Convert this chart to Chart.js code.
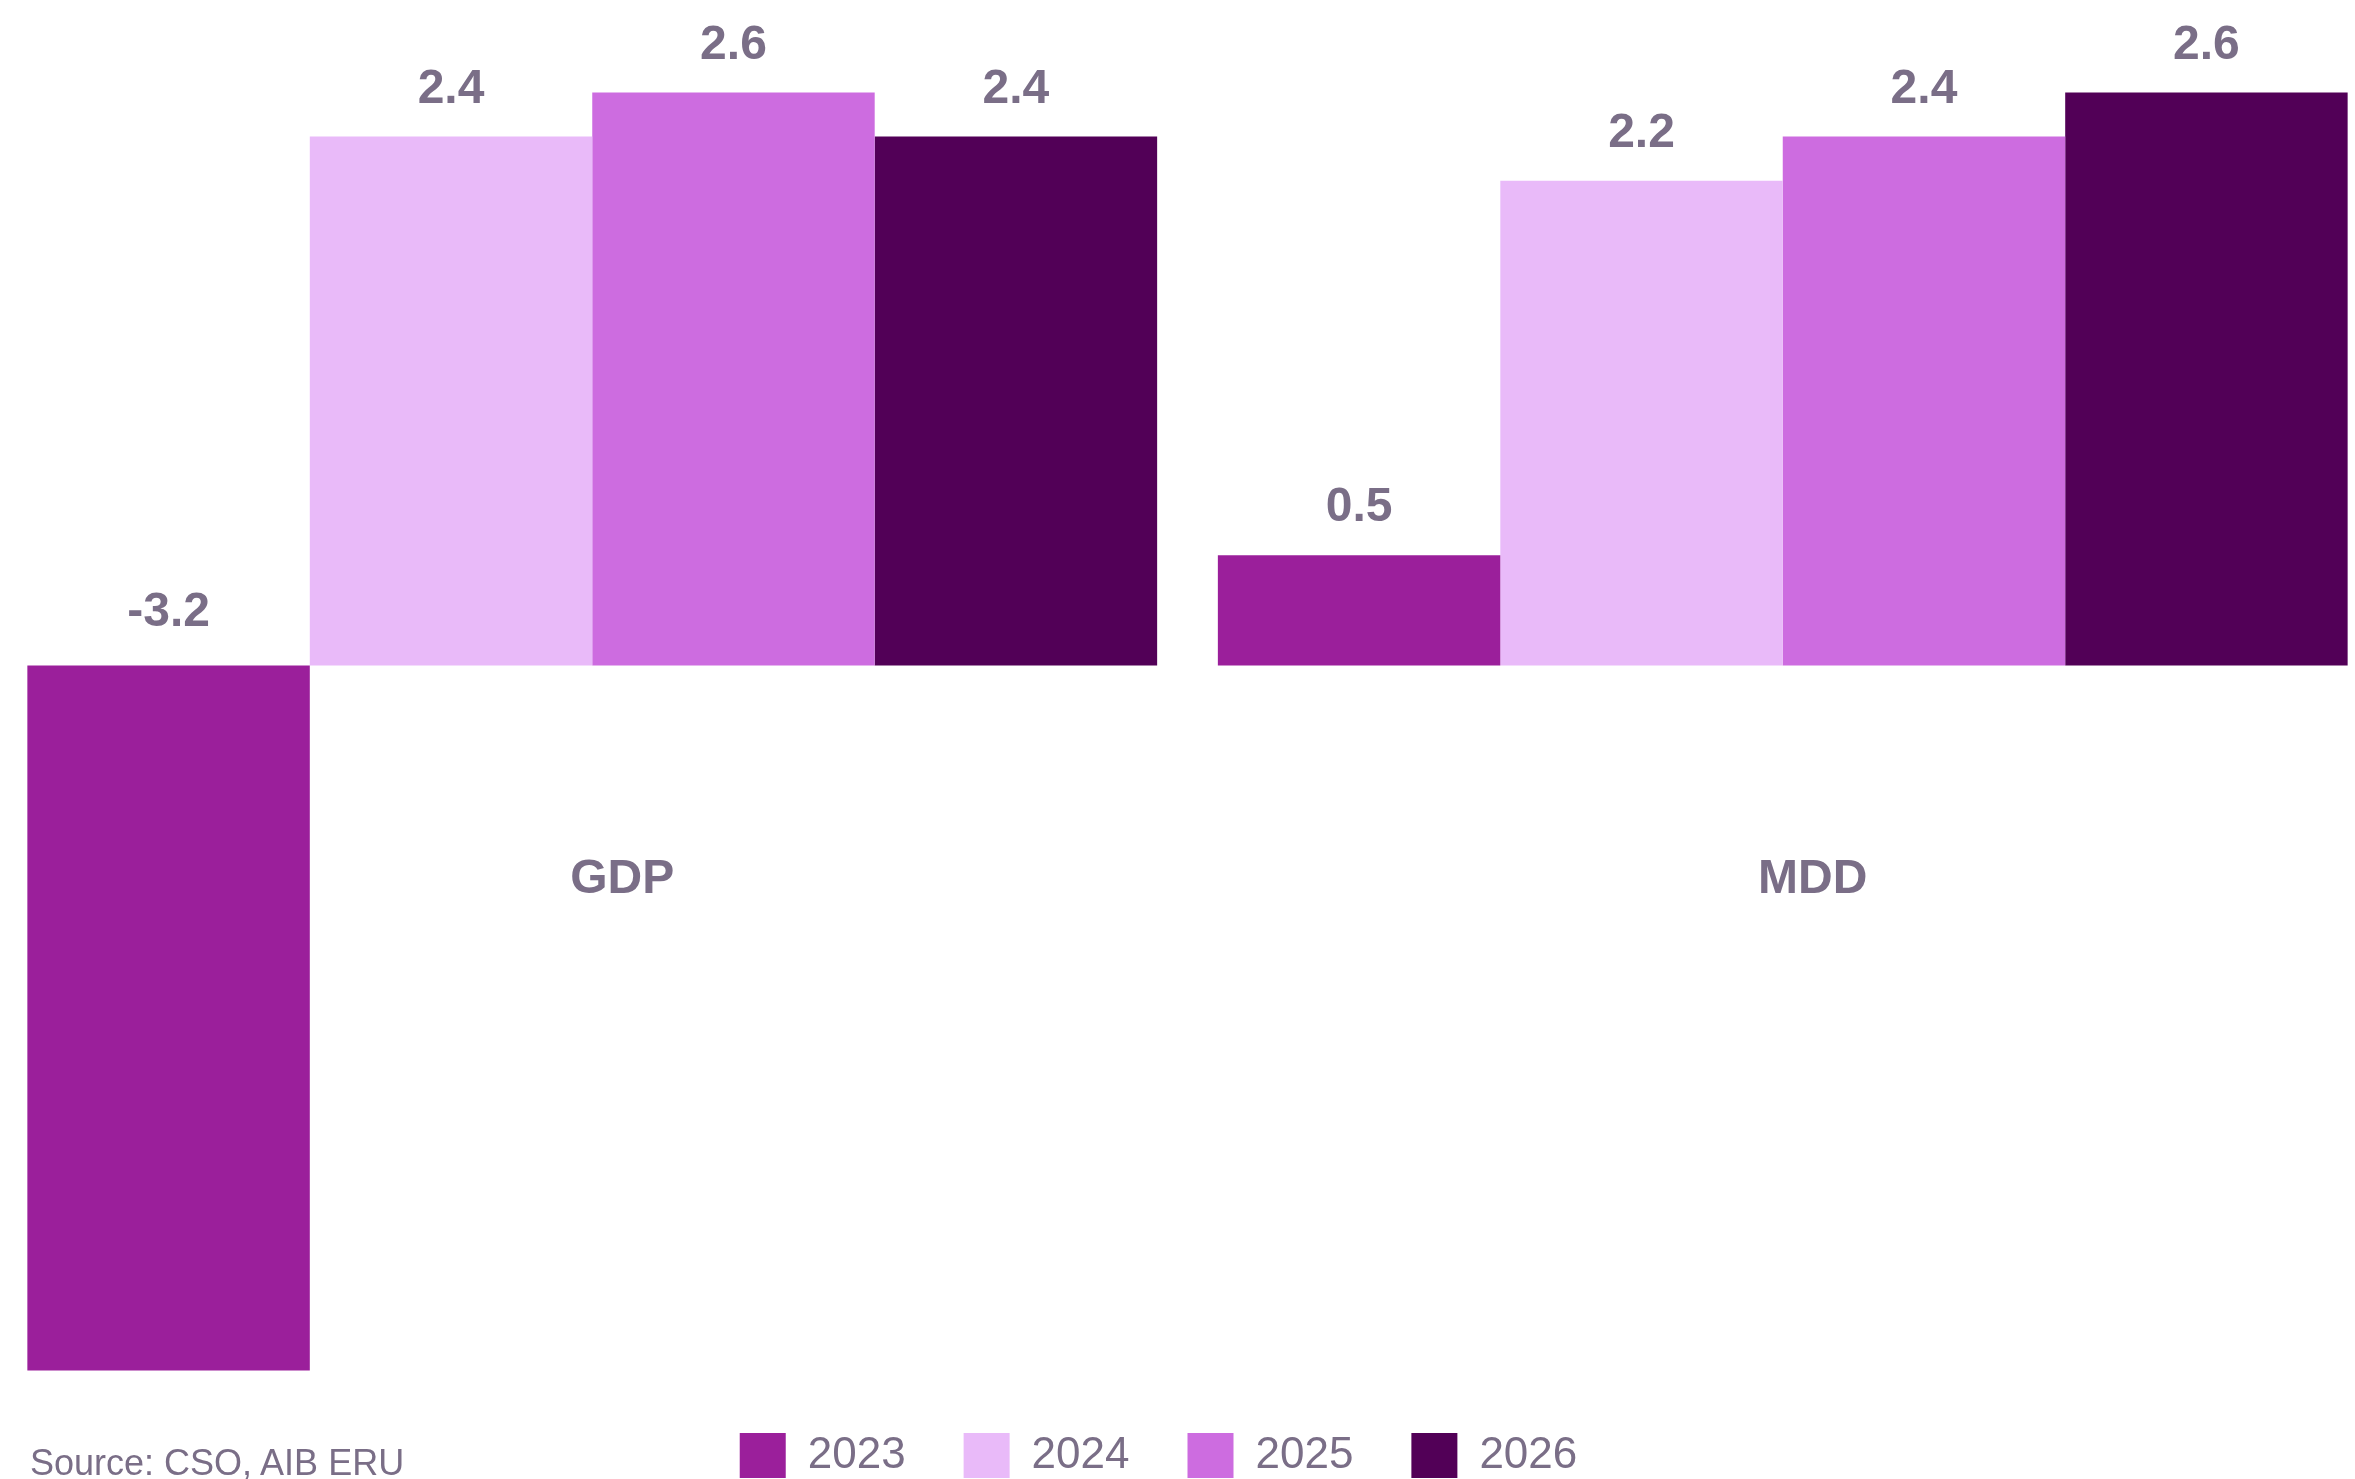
<!DOCTYPE html>
<html lang="en">
<head>
    <meta charset="UTF-8">
    <title>GDP and MDD growth</title>
    <style>
        body {
            margin: 0;
            background: #ffffff;
            overflow: hidden;
            width: 2355px;
            height: 1479px;
            position: relative;
            font-family: "Liberation Sans", Arial, sans-serif;
        }
        .chart-wrap {
            position: absolute;
            left: -3px;
            top: 0;
            width: 2381px;
            height: 1488px;
        }
        .source {
            position: absolute;
            left: 30px;
            top: 1445px;
            font-size: 36px;
            line-height: 36px;
            color: #7a6e87;
        }
    </style>
</head>
<body>
<div class="chart-wrap">
    <canvas id="growthChart"></canvas>
</div>
<div class="source">Source: CSO, AIB ERU</div>
<script src="https://cdn.jsdelivr.net/npm/chart.js"></script>
<script>
    // data
    const categories = ['GDP', 'MDD'];
    const years = ['2023', '2024', '2025', '2026'];
    const values2023 = [-3.2, 0.5];
    const values2024 = [2.4, 2.2];
    const values2025 = [2.6, 2.4];
    const values2026 = [2.4, 2.6];
    const colours = ['#9b1f9b', '#e9baf9', '#cd6ce0', '#520057'];
    const TEXT = '#7a6e87';
    const FONT = '"Liberation Sans", Arial, sans-serif';

    const seriesValues = [values2023, values2024, values2025, values2026];

    // value labels above each bar (above the zero line for negatives)
    const valueLabels = {
        id: 'valueLabels',
        afterDatasetsDraw(chart) {
            const ctx = chart.ctx;
            ctx.save();
            ctx.font = 'bold 48px ' + FONT;
            ctx.fillStyle = TEXT;
            ctx.textAlign = 'center';
            ctx.textBaseline = 'alphabetic';
            chart.data.datasets.forEach((ds, i) => {
                chart.getDatasetMeta(i).data.forEach((bar, j) => {
                    const v = ds.data[j];
                    const top = Math.min(bar.y, bar.base);
                    const gap = v < 0 ? 39 : 34;
                    ctx.fillText(v.toFixed(1), bar.x, top - gap);
                });
            });
            ctx.restore();
        }
    };

    // legend sits a little left of centre in the original
    const legendShift = {
        id: 'legendShift',
        afterLayout(chart) {
            if (chart.legend) {
                chart.legend.left -= 29;
                chart.legend.right -= 29;
            }
        }
    };

    const ctx = document.getElementById('growthChart').getContext('2d');
    new Chart(ctx, {
        type: 'bar',
        data: {
            labels: categories,
            datasets: years.map((y, i) => ({
                label: y,
                data: seriesValues[i],
                backgroundColor: colours[i],
                borderWidth: 0,
                barPercentage: 1.0,
                categoryPercentage: 0.949
            }))
        },
        options: {
            responsive: true,
            maintainAspectRatio: false,
            animation: false,
            layout: { padding: 0 },
            plugins: {
                legend: {
                    position: 'bottom',
                    labels: {
                        boxWidth: 46,
                        boxHeight: 45,
                        padding: 58,
                        color: TEXT,
                        font: { family: FONT, size: 44 }
                    }
                },
                tooltip: { enabled: false }
            },
            scales: {
                x: {
                    position: { y: -0.84 },
                    grid: { display: false, drawTicks: false },
                    border: { display: false },
                    ticks: {
                        padding: 0,
                        labelOffset: 30,
                        color: TEXT,
                        font: { family: FONT, size: 48, weight: 'bold' }
                    }
                },
                y: {
                    display: false,
                    min: -3.22,
                    max: 3.02
                }
            }
        },
        plugins: [valueLabels, legendShift]
    });
</script>
</body>
</html>
